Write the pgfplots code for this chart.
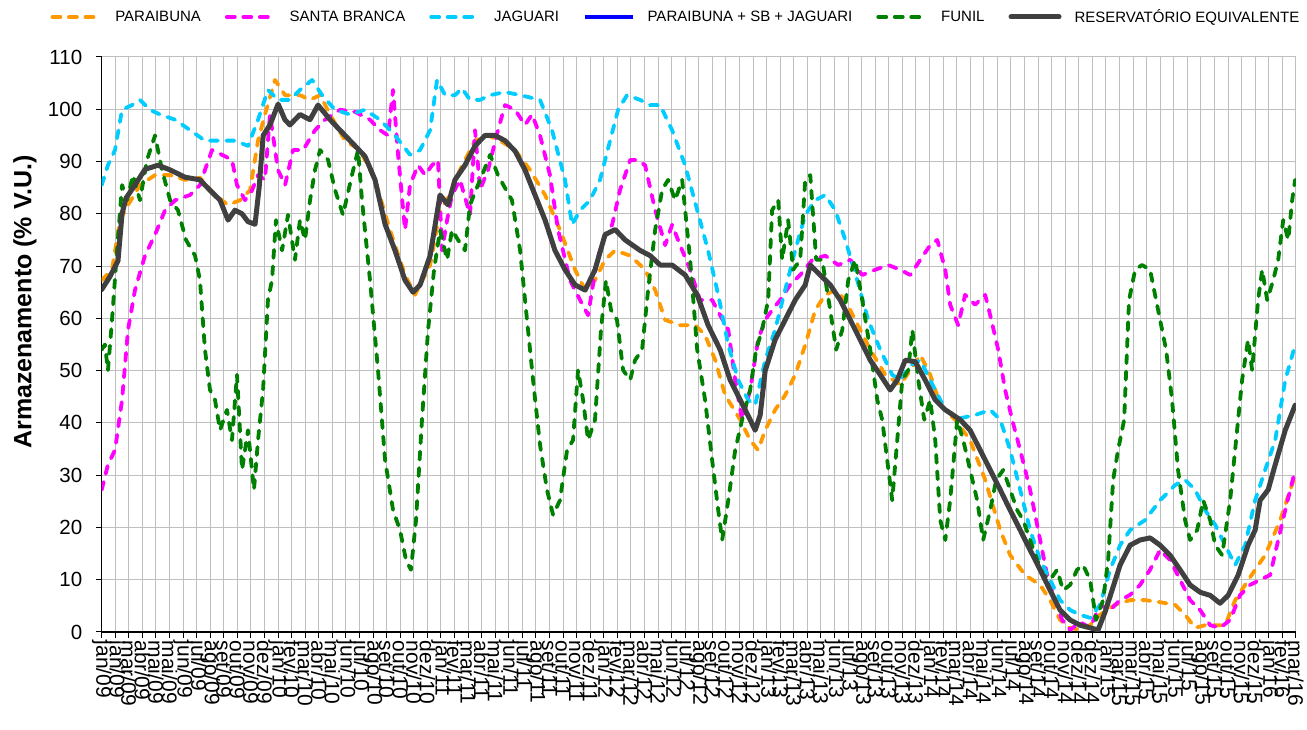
\documentclass[border=0pt]{standalone}
\usepackage{fontspec}
\setmainfont{Liberation Sans}
\usepackage{pgfplots}
\pgfplotsset{compat=1.18}
\definecolor{cPar}{RGB}{255,153,0}
\definecolor{cSB}{RGB}{255,0,255}
\definecolor{cJag}{RGB}{0,204,255}
\definecolor{cSum}{RGB}{0,0,255}
\definecolor{cFun}{RGB}{0,128,0}
\definecolor{cEq}{RGB}{64,64,64}
\pgfplotsset{
  dsh/.style={line width=3.8pt, line cap=round, line join=round, dash pattern=on 8pt off 8.5pt},
}
\begin{document}
\begin{tikzpicture}
\begin{axis}[
  scale only axis, width=1194.3pt, height=575pt,
  xmin=0, xmax=88, ymin=0, ymax=110,
  axis lines=left, axis line style={-, black, line width=1.3pt},
  xtick={0,...,88},
  xticklabels={jan/09,jan/09,mar/09,abr/09,mai/09,mai/09,jun/09,jul/09,ago/09,set/09,out/09,nov/09,dez/09,
    jan/10,fev/10,mar/10,abr/10,mai/10,jun/10,jul/10,ago/10,set/10,out/10,nov/10,dez/10,
    jan/11,fev/11,mar/11,abr/11,mai/11,jun/11,jul/11,ago/11,set/11,out/11,nov/11,dez/11,
    jan/12,fev/12,mar/12,abr/12,mai/12,jun/12,jul/12,ago/12,set/12,out/12,nov/12,dez/12,
    jan/13,fev/13,mar/13,abr/13,mai/13,jun/13,jul/13,ago/13,set/13,out/13,nov/13,dez/13,
    jan/14,fev/14,mar/14,abr/14,mai/14,jun/14,jul/14,ago/14,set/14,out/14,nov/14,dez/14,dez/14,
    jan/15,mar/15,mar/15,abr/15,mai/15,jun/15,jul/15,ago/15,set/15,out/15,nov/15,dez/15,
    jan/16,fev/16,mar/16},
  ytick={0,10,...,110},
  grid=major, major grid style={draw=black!25, line width=1pt},
  tick align=outside, major tick length=6pt,
  tick style={black, line width=1pt},
  /pgf/number format/assume math mode=true,
  x tick label style={rotate=-90, anchor=west, font=\fontsize{21}{21}\selectfont, inner sep=2.5pt},
  y tick label style={font=\fontsize{20.5}{20.5}\selectfont, xshift=-10pt},
  ylabel={Armazenamento (\% V.U.)},
  ylabel style={font=\fontsize{25}{25}\selectfont\bfseries, at={(axis description cs:-0.0642,0.574)}, anchor=center},
  legend columns=6,
  legend style={at={(axis description cs:-0.043,1.0696)}, anchor=west, draw=none, fill=none,
    inner sep=0pt, font=\fontsize{15}{15}\selectfont,
    /tikz/every odd column/.append style={column sep=11pt},
    /tikz/every even column/.append style={column sep=22pt}},
  legend image code/.code={\draw[#1] (0pt,0pt) -- (48pt,0pt);},
]
\addplot[cPar, dsh] coordinates {
(0,67.3) (0.76,69.3) (1.35,78.8) (1.94,81.7) (2.82,85.5) (3.93,87.4) (5.04,87.4) (6.14,86.5) (7.24,86.9) (8.35,83.6) (9.31,81.7) (10.19,82.6) (10.93,84.5) (11.52,94) (12.03,99) (12.77,105.6) (13.51,102.7) (14.61,102.7) (15.35,101.8) (16.09,102.7) (16.83,99) (17.93,94) (19.03,92.2) (20.14,86.5) (21.24,76.9) (22.35,68.3) (23.09,64.5) (24.2,70.2) (24.93,80.7) (25.66,83.6) (26.4,88.4) (27.51,94) (28.47,95) (29.35,94) (30.46,92.2) (31.56,88.4) (32.67,83.6) (33.77,76.9) (34.88,69.3) (35.62,65.4) (36.35,67.3) (37.09,71.2) (37.83,73) (38.94,72) (40.04,69.3) (40.78,65.4) (41.52,59.7) (42.62,58.7) (43.73,58.7) (44.46,56.8) (45.21,52) (45.94,45.3) (47.05,40.6) (47.78,36.7) (48.37,34.8) (48.89,38.6) (49.62,42.5) (50.36,45.3) (51.1,49.2) (51.84,54.9) (52.58,61.6) (53.31,64.5) (54.05,65.4) (54.79,63.5) (55.52,59.7) (56.63,54) (57.74,49.2) (58.84,47.3) (59.58,50.1) (60.32,53) (61.05,49.2) (61.79,43.4) (62.89,40.6) (63.99,36.7) (65.1,29.1) (66.21,19.5) (66.94,14.7) (68.04,10.9) (69.15,9) (69.88,6.1) (70.62,2.3) (71.36,0.8) (72.09,0.4) (72.83,1.3) (73.57,3.3) (74.67,5.2) (75.78,6.1) (76.88,6.1) (77.99,5.7) (79.09,5.2) (79.83,3.3) (80.57,0.8) (81.31,1.3) (82.05,1.3) (82.78,1.3) (83.52,6.1) (84.25,9) (84.99,11.9) (85.73,14.7) (86.84,21.4) (87.94,30)
};
\addlegendentry{PARAIBUNA}
\addplot[cSB, dsh] coordinates {
(0,27.2) (0.46,32) (0.98,34.8) (1.5,44.4) (1.94,57.8) (2.45,65.4) (3.19,72) (3.93,76) (4.67,80.7) (5.41,82.6) (6.51,83.6) (7.24,85.5) (7.61,88.4) (8.13,92.2) (8.86,91.3) (9.6,90.3) (9.97,85.5) (10.56,82.6) (11.08,84.5) (11.52,87.4) (12.03,86.5) (12.4,99) (12.99,88.4) (13.51,85.5) (14.1,92.2) (14.84,92.2) (15.72,96) (16.46,98) (17.56,99.9) (18.67,99.5) (19.77,98) (20.51,96) (21.1,95) (21.47,103.7) (21.84,91.3) (22.35,76.9) (22.72,85.5) (23.31,89.3) (23.83,87.4) (24.34,89.3) (24.78,90.3) (25.08,73) (25.45,78.8) (25.81,83.6) (26.4,86.5) (27.14,79.8) (27.51,96) (27.88,84.6) (28.47,88.4) (29.2,96) (29.72,100.8) (30.46,99.9) (31.19,97) (31.71,99) (32.3,95) (33.03,87.4) (33.63,76.9) (34.51,67.3) (35.25,63.5) (35.84,60.6) (36.5,71.2) (37.09,76) (37.61,77.9) (38.2,84.6) (38.94,90.3) (39.45,90.3) (40.04,89.3) (40.78,80.7) (41.52,74) (42.03,77.9) (42.62,74) (43.36,69.3) (44.09,63.5) (44.98,63.5) (45.57,60.6) (46.17,57.8) (46.68,48.2) (47.19,40.6) (47.78,46.3) (48.37,55.9) (48.89,59.7) (49.4,61.6) (49.99,63.5) (50.73,66.4) (51.47,68.3) (52.36,71.2) (53.31,72) (54.27,70.2) (55.16,71.2) (56.04,68.3) (57.0,69.3) (57.96,70.2) (58.84,69.3) (59.58,68.3) (60.32,71.2) (61.05,74) (61.57,75) (62.16,69.3) (62.52,62.6) (63.11,58.7) (63.62,64.5) (64.36,62.6) (65.1,64.5) (65.47,60.6) (66.06,54) (66.57,46.3) (67.09,40.6) (67.68,34.8) (68.41,27.2) (69.15,17.6) (69.73,10) (70.25,6.1) (70.77,2.3) (71.36,0.4) (72.09,1.9) (72.83,0.8) (73.57,5.2) (74.3,4.2) (75.04,6.1) (75.78,7.1) (76.51,9) (77.25,11.9) (77.99,15.7) (78.72,13.8) (79.46,10) (80.2,6.1) (80.94,4.2) (81.68,1.3) (82.41,0.8) (83.15,2.3) (83.89,7.1) (84.62,9) (85.36,10) (86.1,10.9) (86.69,17.6) (87.21,23.3) (87.94,31)
};
\addlegendentry{SANTA BRANCA}
\addplot[cJag, dsh] coordinates {
(0,85.5) (0.46,89.3) (0.98,92.2) (1.5,99.9) (2.23,100.8) (2.82,101.8) (3.56,99.9) (4.3,99) (5.41,98) (6.51,96) (7.61,94) (8.72,94) (9.82,94) (10.78,93) (11.52,98) (12.25,103.7) (12.99,101.8) (13.87,101.8) (14.61,103.7) (15.5,105.6) (16.24,102.7) (17.19,99.9) (18.3,99) (19.4,99.9) (20.51,98) (21.61,95) (22.72,91.3) (23.46,92.2) (24.2,96) (24.71,105.6) (25.3,102.7) (26.03,102.7) (26.55,104) (27.14,101.8) (27.88,101.8) (28.62,102.7) (29.72,103.3) (30.83,102.7) (32.3,101.8) (33.18,96) (34.14,86.5) (34.66,77.9) (35.25,80.7) (35.98,82.6) (36.72,86.5) (37.46,94) (38.05,99.9) (38.71,102.7) (39.67,101.8) (40.41,100.8) (41.15,100.8) (42.03,96) (42.99,89.3) (43.88,80.7) (44.68,73) (45.43,64.5) (46.17,54.9) (46.9,48.2) (47.63,44.4) (48.15,43.4) (48.89,52) (49.62,57.8) (50.36,65.4) (51.1,73) (51.84,79.8) (52.58,82.6) (53.31,83.6) (54.05,80.7) (54.79,75) (55.67,67.3) (56.48,59.7) (57.37,54) (58.25,49.2) (58.84,48.2) (59.58,51) (60.32,52) (61.05,48.2) (62.16,42.5) (63.26,40.9) (64.36,41.5) (65.47,42.5) (66.21,40.6) (66.94,34.8) (67.68,27.2) (68.41,19.5) (69.15,13.8) (69.88,10) (70.62,6.1) (71.36,4.2) (72.09,3.3) (72.83,2.7) (73.57,5.2) (74.3,11.9) (75.04,16.6) (75.78,19.5) (76.88,21.4) (77.99,25.2) (79.09,28.1) (79.83,29.1) (80.57,27.2) (81.31,23.3) (82.05,20.5) (82.78,16.6) (83.52,12.8) (84.25,16.6) (84.99,25.2) (85.73,31) (86.47,36.7) (87.21,48.2) (87.94,54.9)
};
\addlegendentry{JAGUARI}
\addlegendimage{cSum, line width=3.5pt}
\addlegendentry{PARAIBUNA + SB + JAGUARI}
\addplot[cFun, dsh] coordinates {
(0,54) (0.24,55) (0.46,50) (0.76,59.7) (1.13,73) (1.5,85.5) (1.86,82.6) (2.31,87.4) (2.82,82.6) (3.34,90.3) (3.93,95) (4.44,88.4) (5.04,82.6) (5.62,80.7) (6.21,75) (6.88,72) (7.24,67.3) (7.61,54) (7.98,46.3) (8.35,44.4) (8.72,38.6) (9.23,42.5) (9.6,36.7) (9.97,49.2) (10.34,31) (10.78,38.6) (11.22,27.2) (11.52,36.7) (11.89,46.3) (12.25,63.5) (12.55,67.3) (12.84,78.8) (13.29,73) (13.73,79.8) (14.24,71.2) (14.61,78.8) (14.98,75) (15.35,82.6) (15.72,88.4) (16.09,92.2) (16.68,90.3) (17.19,84.6) (17.78,79.8) (18.44,87.4) (18.89,92.2) (19.18,82.6) (19.77,67.3) (20.36,50.1) (20.88,32.9) (21.47,23.3) (21.98,19.5) (22.42,13.8) (22.79,11.9) (23.16,21.4) (23.6,40.6) (24.05,57.8) (24.49,69.3) (24.93,76.9) (25.45,71.2) (25.81,76.9) (26.26,75) (26.77,73) (27.14,81.7) (27.58,84.6) (28.03,87.4) (28.62,91.3) (29.2,87.4) (29.79,84.6) (30.23,82.6) (30.83,73) (31.34,59.7) (31.86,46.3) (32.3,35.8) (32.81,27.2) (33.26,22.4) (33.77,25.2) (34.29,34.8) (34.73,36.7) (35.1,50.1) (35.47,44.4) (35.84,36.7) (36.35,40.6) (36.79,57.8) (37.16,67.3) (37.53,61.6) (37.97,59.7) (38.42,50.1) (38.94,48.2) (39.3,52) (39.82,54) (40.26,65.4) (40.78,76.9) (41.3,84.6) (41.74,86.5) (42.25,82.6) (42.77,86.5) (43.36,71.2) (43.88,54) (44.46,44.4) (44.98,32.9) (45.43,23.3) (45.72,17.6) (46.17,25.2) (46.68,34.8) (47.19,40.6) (47.78,46.3) (48.22,54) (48.66,57.8) (49.11,63.5) (49.4,80.7) (49.85,82.6) (50.14,71.2) (50.58,78.8) (50.95,69.3) (51.47,71.2) (51.84,86.5) (52.21,87.4) (52.65,71.2) (53.09,71.2) (53.68,61.6) (54.12,54) (54.57,57.8) (55.01,67.3) (55.52,71.2) (56.04,63.5) (56.63,54) (57.15,44.4) (57.51,40.6) (57.88,32.9) (58.25,25.2) (58.62,36.7) (58.99,48.2) (59.43,50.1) (59.73,57.8) (60.17,48.2) (60.61,40.6) (61.05,44.4) (61.42,36.7) (61.79,21.4) (62.16,17.6) (62.52,25.2) (63.04,40.6) (63.48,36.7) (63.99,31) (64.51,25.2) (64.95,17.6) (65.47,23.3) (65.91,29.1) (66.43,31) (66.94,27.2) (67.46,23.3) (67.9,21.4) (68.41,17.6) (68.93,13.8) (69.37,10.9) (69.88,10) (70.4,11.9) (70.84,8) (71.36,9) (71.87,11.9) (72.31,12.8) (72.83,10) (73.27,2.3) (73.79,6.1) (74.16,13.8) (74.53,29.1) (74.89,34.8) (75.34,40.6) (75.7,63.5) (76.15,69.3) (76.66,70.2) (77.25,69.3) (77.84,61.6) (78.43,54) (78.87,44.4) (79.31,31) (79.83,21.4) (80.2,17.6) (80.72,19.5) (81.16,25.2) (81.68,21.4) (82.05,16.6) (82.56,14.7) (83.15,25.2) (83.66,38.6) (84.03,48.2) (84.47,55.9) (84.77,50.1) (85.21,63.5) (85.51,69.3) (85.88,63.5) (86.32,67.3) (86.69,71.2) (87.06,78.8) (87.43,75) (87.72,82.6) (87.94,86.5)
};
\addlegendentry{FUNIL}
\addplot[cEq, line width=5pt, line join=round, line cap=round] coordinates {
(0,65.5) (0.61,68) (1.2,71) (1.5,80) (1.79,83) (2.45,85.5) (3.19,88.5) (4.15,89.3) (5.04,88.4) (6.14,87) (7.24,86.5) (7.98,84.5) (8.72,82.6) (9.31,78.8) (9.82,80.7) (10.34,80) (10.78,78.5) (11.3,78) (11.6,85) (11.9,95) (12.4,97) (13.0,101) (13.5,98) (13.87,97) (14.61,99) (15.35,98) (15.94,100.8) (16.83,98) (17.56,96) (18.67,93) (19.4,91) (20.14,86.5) (20.88,78) (21.61,73) (22.35,67.3) (22.94,65) (23.46,66.4) (24.2,72) (24.93,83.6) (25.52,81.7) (26.03,86.5) (26.77,89.3) (27.51,93) (28.25,95) (28.98,95) (29.72,94) (30.46,92) (31.19,88.4) (31.93,83.6) (32.67,78.8) (33.4,73) (34.14,69.3) (34.88,66.4) (35.62,65.4) (36.35,69.3) (37.09,76) (37.83,77) (38.57,75) (39.67,73) (40.41,72) (41.15,70.2) (42.03,70.2) (42.99,68.3) (43.88,64.5) (44.68,58.7) (45.57,54) (46.31,48.2) (47.05,44.4) (47.78,40.6) (48.15,38.6) (48.52,41.5) (48.89,50) (49.62,55.9) (50.36,59.7) (51.1,63.5) (51.84,66.4) (52.21,70.2) (52.94,68.3) (53.68,66.4) (54.42,63.5) (55.16,59.7) (55.89,55.9) (56.63,52) (57.37,49.2) (58.1,46.3) (58.62,48.2) (59.21,52) (59.95,51.7) (60.68,48.2) (61.42,44.4) (62.16,42.5) (63.26,40.6) (63.99,38.6) (64.73,34.8) (65.47,31) (66.21,27.2) (66.94,23.3) (67.68,19.5) (68.41,15.7) (69.15,11.9) (69.88,8) (70.62,4.2) (71.36,2.3) (72.09,1.3) (72.83,0.8) (73.42,0.4) (73.93,3.8) (74.45,8) (75.04,12.8) (75.78,16.6) (76.51,17.6) (77.25,18) (77.99,16.6) (78.72,14.7) (79.46,11.9) (80.2,9) (80.94,7.6) (81.68,7) (82.41,5.5) (83.0,7) (83.74,10.9) (84.47,16.6) (84.99,19.5) (85.36,25.2) (85.95,27.2) (86.47,32) (87.21,38.6) (87.94,43.4)
};
\addlegendentry{RESERVATÓRIO EQUIVALENTE}
\end{axis}
\path[use as bounding box] (-101.7pt,-98pt) rectangle (1205.3pt,632pt);
\end{tikzpicture}
\end{document}
